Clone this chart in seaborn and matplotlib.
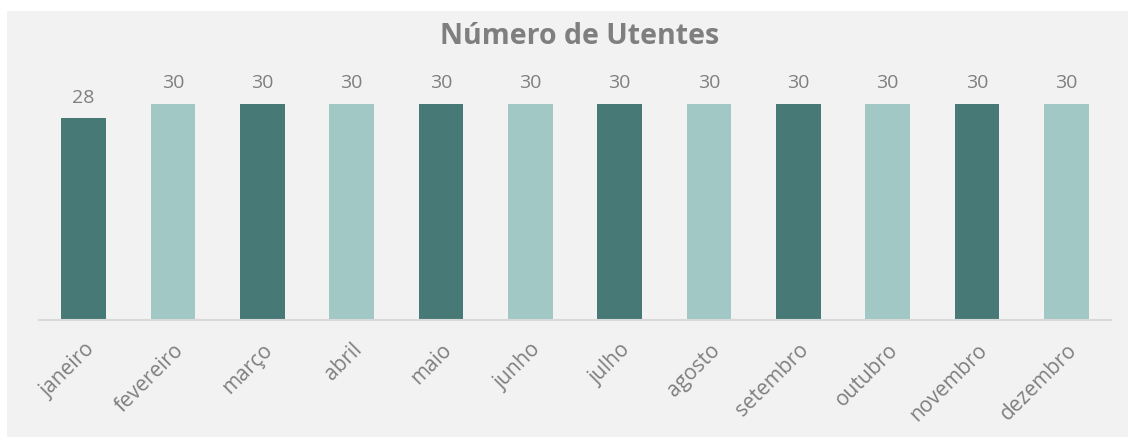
import matplotlib
matplotlib.use("Agg")
import matplotlib.pyplot as plt
import seaborn as sns
import pandas as pd
from matplotlib.patches import Rectangle

months = ["janeiro", "fevereiro", "março", "abril", "maio", "junho",
          "julho", "agosto", "setembro", "outubro", "novembro", "dezembro"]
utentes = [28, 30, 30, 30, 30, 30, 30, 30, 30, 30, 30, 30]
colors = ["#477a76", "#a2c8c5"] * 6

sns.set_theme(style="white")
plt.rcParams["font.family"] = ["Open Sans", "DejaVu Sans"]

df = pd.DataFrame({"mes": months, "n": utentes})

fig = plt.figure(figsize=(11.28, 4.37), dpi=100, facecolor="white")
# grey chart panel, kept behind the axes
fig.patches.append(Rectangle((7 / 1128, 0), 1 - 7 / 1128, 1 - 11 / 437,
                             transform=fig.transFigure, facecolor="#f2f2f2",
                             edgecolor="none", zorder=-10))

ax = fig.add_axes([39 / 1128, (437 - 320) / 437, (1111 - 39) / 1128, (320 - 68) / 437])
ax.set_facecolor("none")
sns.barplot(data=df, x="mes", y="n", hue="mes", palette=colors, legend=False,
            width=0.5, ax=ax, saturation=1, linewidth=0)
ax.set_ylim(0, 35)
ax.set_xlim(-0.5, 11.5)

for i, v in enumerate(utentes):
    ax.text(i, v + 1.6, str(v), ha="center", va="bottom", fontsize=14, color="#7f7f7f")

ax.set_xlabel("")
ax.set_ylabel("")
ax.set_yticks([])
ax.tick_params(axis="x", length=0, pad=14)
plt.setp(ax.get_xticklabels(), rotation=45, ha="right", rotation_mode="anchor",
         fontsize=15, color="#7f7f7f")
for lbl in ax.get_xticklabels():
    lbl.set_x(lbl.get_position()[0])
for s in ["top", "right", "left"]:
    ax.spines[s].set_visible(False)
ax.spines["bottom"].set_color("#d9d9d9")
ax.spines["bottom"].set_linewidth(1.5)

fig.text(580 / 1128, 1 - 36 / 437, "Número de Utentes", ha="center", va="center",
         fontsize=20.5, fontweight="bold", color="#7f7f7f")

fig.savefig("out.png", dpi=100, facecolor=fig.get_facecolor())
